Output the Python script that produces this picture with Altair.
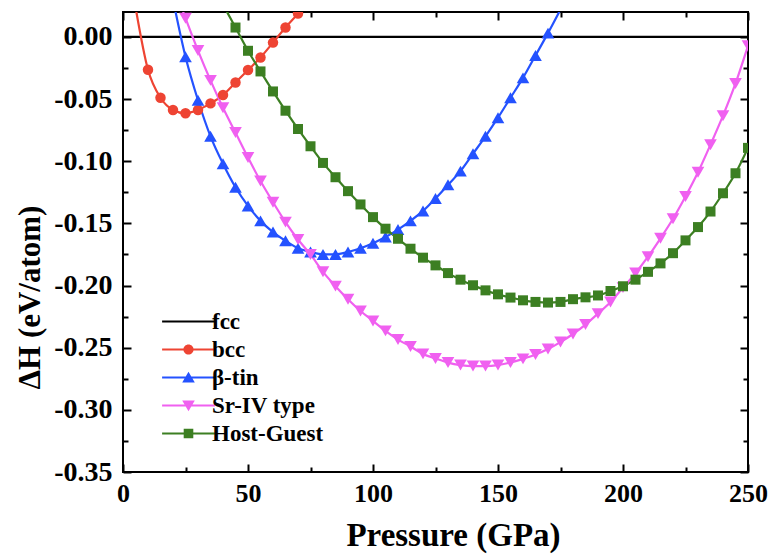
import altair as alt
import pandas as pd

# ---------------- data ----------------
series_names = ["fcc", "bcc", "β-tin", "Sr-IV type", "Host-Guest"]
series_colors = ["#000000", "#EE4433", "#2452FF", "#F060F0", "#3C7F22"]

fcc_P = [0, 250]
fcc_H = [0.0, 0.0]

bcc_P = list(range(5, 80, 5))
bcc_H = [0.024, -0.0265, -0.049, -0.0588, -0.0615, -0.0588, -0.0535, -0.0468,
         -0.0367, -0.0267, -0.0166, -0.0046, 0.0075, 0.0187, 0.031]

btin_P = list(range(20, 180, 5))
btin_H = [0.03, -0.016, -0.051, -0.080, -0.102, -0.121, -0.136, -0.148, -0.157,
          -0.164, -0.170, -0.173, -0.175, -0.175, -0.173, -0.170, -0.166, -0.161,
          -0.155, -0.148, -0.140, -0.130, -0.119, -0.108, -0.094, -0.080, -0.065,
          -0.049, -0.033, -0.015, 0.003, 0.022]

sr_P = list(range(20, 255, 5))
sr_H = [0.043, 0.015, -0.011, -0.035, -0.057, -0.077, -0.097, -0.116, -0.133, -0.149,
        -0.163, -0.175, -0.189, -0.2005, -0.211, -0.2205, -0.2285, -0.2365, -0.2435, -0.249,
        -0.255, -0.2587, -0.262, -0.264, -0.2648, -0.2648, -0.264, -0.262, -0.259, -0.2555,
        -0.251, -0.2455, -0.239, -0.2314, -0.2226, -0.2132, -0.2017, -0.190, -0.1768, -0.162,
        -0.1463, -0.1284, -0.1089, -0.0867, -0.0634, -0.0375, -0.0072]

hg_P = list(range(40, 255, 5))
hg_H = [0.026, 0.0075, -0.0112, -0.0278, -0.0439, -0.0594, -0.0741, -0.088, -0.1014, -0.1129,
        -0.1241, -0.1348, -0.145, -0.1543, -0.1624, -0.1704, -0.1776, -0.1838, -0.19, -0.1953,
        -0.1998, -0.2039, -0.2071, -0.2097, -0.2119, -0.2132, -0.2137, -0.2132, -0.211, -0.2095,
        -0.208, -0.2044, -0.2006, -0.1953, -0.189, -0.1822, -0.174, -0.1637, -0.153, -0.1405,
        -0.1258, -0.1097, -0.0893]

x_major = [0, 50, 100, 150, 200, 250]
x_minor = [25, 75, 125, 175, 225]
y_major = [-0.35, -0.30, -0.25, -0.20, -0.15, -0.10, -0.05, 0.0]
y_minor = [-0.325, -0.275, -0.225, -0.175, -0.125, -0.075, -0.025]

rows = []
for name, Ps, Hs in [("fcc", fcc_P, fcc_H), ("bcc", bcc_P, bcc_H), ("β-tin", btin_P, btin_H),
                     ("Sr-IV type", sr_P, sr_H), ("Host-Guest", hg_P, hg_H)]:
    for p, h in zip(Ps, Hs):
        rows.append({"series": name, "P": p, "H": h})
df = pd.DataFrame(rows)

# ---------------- styling ----------------
FONT = "Liberation Serif"
XLABEL_SIZE = 26
YLABEL_SIZE = 28
XTITLE_SIZE = 33
YTITLE_SIZE = 31
MAJOR = 8
MINOR = 5

xscale = alt.Scale(domain=[0, 250], nice=False, zero=False)
yscale = alt.Scale(domain=[-0.35, 0.02], nice=False, zero=False)
cscale = alt.Scale(domain=series_names, range=series_colors)

# legend symbols: a line segment with the marker in the middle (units of sqrt(size)/2)
LINE = "M-4.4,-0.18H4.4V0.18H-4.4Z"
legend_paths = [
    LINE,
    LINE + "M-0.85,0A0.85,0.85 0 1,1 0.85,0A0.85,0.85 0 1,1 -0.85,0Z",
    LINE + "M0,-0.95L1.05,0.85L-1.05,0.85Z",
    LINE + "M0,0.95L-1.05,-0.85L1.05,-0.85Z",
    LINE + "M-0.8,-0.8H0.8V0.8H-0.8Z",
]

y_label_expr = "(datum.value < -1e-9 ? '-' : '') + format(abs(datum.value), '.2f')"


def tick_axis(orient, values, size):
    return alt.Axis(orient=orient, values=values, offset=-size, tickSize=size, tickWidth=2,
                    tickColor="black", domain=False, grid=False, labels=False, title=None)


x_main_axis = alt.Axis(orient="bottom", values=x_major, offset=-MAJOR, tickSize=MAJOR, tickWidth=2,
                       tickColor="black", domain=False, grid=False, format="d",
                       labelFont=FONT, labelFontSize=XLABEL_SIZE, labelFontWeight="bold",
                       labelColor="black", labelPadding=8, labelFlush=False, labelOverlap=False,
                       title="Pressure (GPa)", titleFont=FONT, titleFontSize=XTITLE_SIZE,
                       titleFontWeight="bold", titleColor="black", titlePadding=13, titleX=330)
y_main_axis = alt.Axis(orient="left", values=y_major, offset=-MAJOR, tickSize=MAJOR, tickWidth=2,
                       tickColor="black", domain=False, grid=False, labelExpr=y_label_expr,
                       labelFont=FONT, labelFontSize=YLABEL_SIZE, labelFontWeight="bold",
                       labelColor="black", labelPadding=11, labelFlush=False, labelOverlap=False,
                       title="ΔH (eV/atom)", titleFont=FONT, titleFontSize=YTITLE_SIZE,
                       titleFontWeight="bold", titleColor="black", titlePadding=7, titleY=285)

axes_sets = [
    (x_main_axis, y_main_axis),
    (tick_axis("bottom", x_minor, MINOR), tick_axis("left", y_minor, MINOR)),
    (tick_axis("top", x_major, MAJOR), tick_axis("right", y_major, MAJOR)),
    (tick_axis("top", x_minor, MINOR), tick_axis("right", y_minor, MINOR)),
]

base = alt.Chart(df)


def enc(chart, axes=None):
    if axes is None:
        return chart.encode(
            x=alt.X("P:Q", scale=xscale, axis=None),
            y=alt.Y("H:Q", scale=yscale, axis=None),
        )
    return chart.encode(
        x=alt.X("P:Q", scale=xscale, axis=axes[0]),
        y=alt.Y("H:Q", scale=yscale, axis=axes[1]),
    )


# legend layer goes first so that its legend definition wins the merge
legend_def = alt.Legend(orient="none", legendX=54, legendY=298, title=None,
                        labelFont=FONT, labelFontSize=23, labelFontWeight="bold",
                        labelColor="black", symbolSize=144, symbolStrokeWidth=0,
                        symbolOpacity=1, labelOffset=12, rowPadding=4)
legend_layer = enc(
    base.mark_point(filled=True, opacity=0, size=1, clip=True)
).encode(
    color=alt.Color("series:N", scale=cscale, legend=legend_def),
    shape=alt.Shape("series:N", scale=alt.Scale(domain=series_names, range=legend_paths),
                    legend=legend_def),
)

lines = enc(base.mark_line(clip=True, strokeWidth=2.2, interpolate="monotone"), axes_sets[0]).encode(
    color=alt.Color("series:N", scale=cscale, legend=None)
)

marker_specs = [
    ("bcc", "circle", 110),
    ("β-tin", "triangle-up", 160),
    ("Sr-IV type", "triangle-down", 160),
    ("Host-Guest", "square", 100),
]
point_layers = []
for i, (name, shape, size) in enumerate(marker_specs):
    ax = axes_sets[i + 1] if i + 1 < len(axes_sets) else None
    layer = base.transform_filter(
        f"datum.series == '{name}' && datum.H <= 0.02"
    ).mark_point(shape=shape, size=size, filled=True, opacity=1, clip=True, strokeWidth=0)
    layer = enc(layer, ax).encode(color=alt.Color("series:N", scale=cscale, legend=None))
    point_layers.append(layer)

chart = alt.layer(legend_layer, lines, *point_layers).resolve_axis(
    x="independent", y="independent"
).properties(
    width=625, height=460,
    autosize="none",
    padding={"left": 123, "top": 12, "right": 25, "bottom": 88},
    background="white",
).configure_view(stroke="black", strokeWidth=2)

chart.save("out.html", embed_options={"renderer": "svg", "actions": False})
